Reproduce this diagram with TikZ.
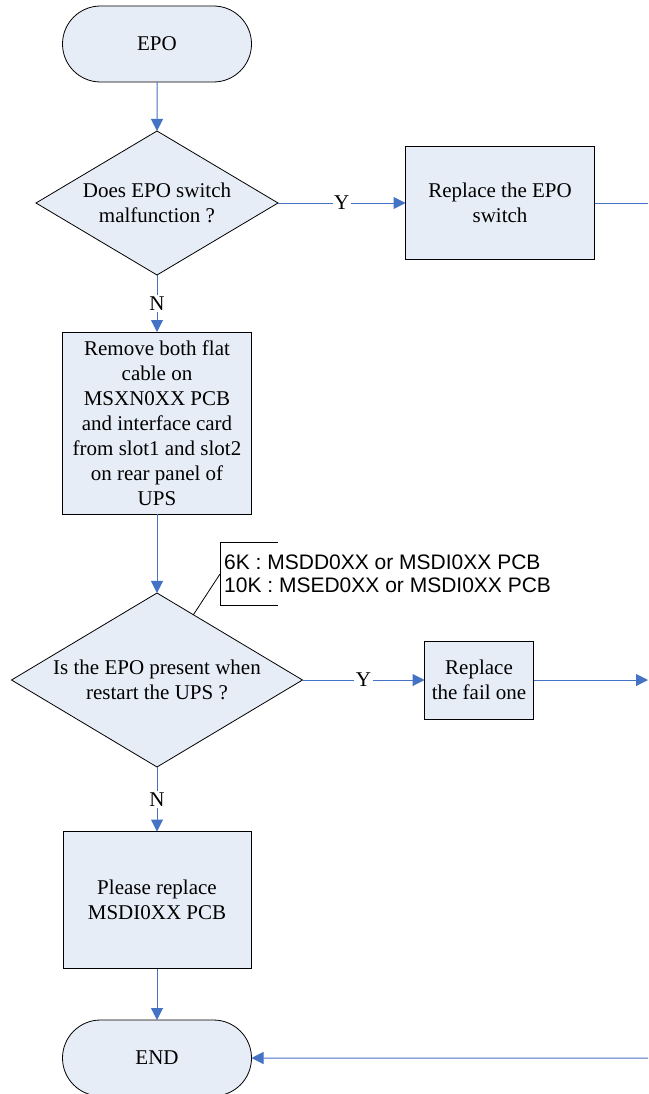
\documentclass[tikz,border=0pt]{standalone}
\usepackage{fontspec}
\setmainfont{Liberation Serif}
\setsansfont{Liberation Sans}
\usetikzlibrary{arrows.meta,shapes.geometric,shapes.misc,calc}
\definecolor{boxfill}{RGB}{231,237,247}
\definecolor{linkblue}{RGB}{68,114,196}
\newcommand\flowfont{\fontsize{21pt}{25pt}\selectfont}
\newcommand\notefont{\sffamily\fontsize{21pt}{23pt}\selectfont}

\begin{document}
\begin{tikzpicture}[x=1pt,y=-1pt,
  base/.style={draw=black, fill=boxfill, line width=0.8pt, outer sep=0pt,
               inner sep=0pt, align=center, font=\flowfont},
  terminal/.style={base, rounded rectangle, minimum width=189pt, minimum height=76pt},
  procbox/.style={base, rectangle},
  decision/.style={base, diamond},
  flowtext/.style={align=center, inner sep=0pt, font=\flowfont},
  yn/.style={fill=white, inner sep=1.5pt, font=\flowfont, text=black},
  link/.style={draw=linkblue, line width=1pt, -{Triangle[length=12pt,width=12pt]}},
  plainlink/.style={draw=linkblue, line width=1pt},
  notebox/.style={font=\notefont, align=left, inner xsep=4pt, inner ysep=0pt,
                  minimum height=62pt, anchor=west},
  leader/.style={draw=black, line width=0.8pt},
]
\useasboundingbox (0,0) rectangle (648,1094);
\fill[white] (0,0) rectangle (648,1094);

% main column
\node[terminal] (epo) at (157,44) {EPO};
\node[decision, minimum width=242pt, minimum height=144pt] (d1) at (157,203) {};
\node[flowtext] (d1t) at (d1.center) {Does EPO switch\\malfunction ?};
\node[procbox, minimum width=189pt, minimum height=113pt] (r1) at (500,203) {Replace the EPO\\switch};
\node[procbox, minimum width=189pt, minimum height=182pt] (rm) at (157,423)
  {Remove both flat\\cable on\\MSXN0XX PCB\\and interface card\\from slot1 and slot2\\on rear panel of\\UPS};
\node[decision, minimum width=291pt, minimum height=174pt] (d2) at (157,680) {};
\node[flowtext] (d2t) at (d2.center) {Is the EPO present when\\restart the UPS ?};
\node[procbox, minimum width=109pt, minimum height=78pt] (r2) at (479,680) {Replace\\the fail one};
\node[procbox, minimum width=188pt, minimum height=137pt] (pr) at (157,900) {Please replace\\MSDI0XX PCB};
\node[terminal] (end) at (157,1058) {END};

% loop lines leaving / entering at the right edge
\coordinate (exit1) at (648,203);
\coordinate (exit2) at (648,680);
\coordinate (entry) at (648,1058);

% connectors
\draw[link] (epo) -- (d1);
\draw[link] (d1) -- node[yn] (y1) {Y} (r1);
\draw[plainlink] (r1) -- (exit1);
\draw[link] (d1) -- node[yn] (n1) {N} (rm);
\draw[link] (rm) -- (d2);
\draw[link] (d2) -- node[yn] (y2) {Y} (r2);
\draw[link] (r2) -- (exit2);
\draw[link] (d2) -- node[yn] (n2) {N} (pr);
\draw[link] (pr) -- (end);
\draw[link] (entry) -- (end);

% annotation on the second decision
\node[notebox] (note) at (220,574) {6K : MSDD0XX or MSDI0XX PCB\\10K : MSED0XX or MSDI0XX PCB};
\draw[leader] ($(note.north west)+(58,0)$) -- (note.north west) -- (note.south west) -- ($(note.south west)+(58,0)$);
\coordinate (tap) at ($(d2.north)!0.25!(d2.east)$);
\draw[leader] (note.west) -- (tap);
\end{tikzpicture}
\end{document}
